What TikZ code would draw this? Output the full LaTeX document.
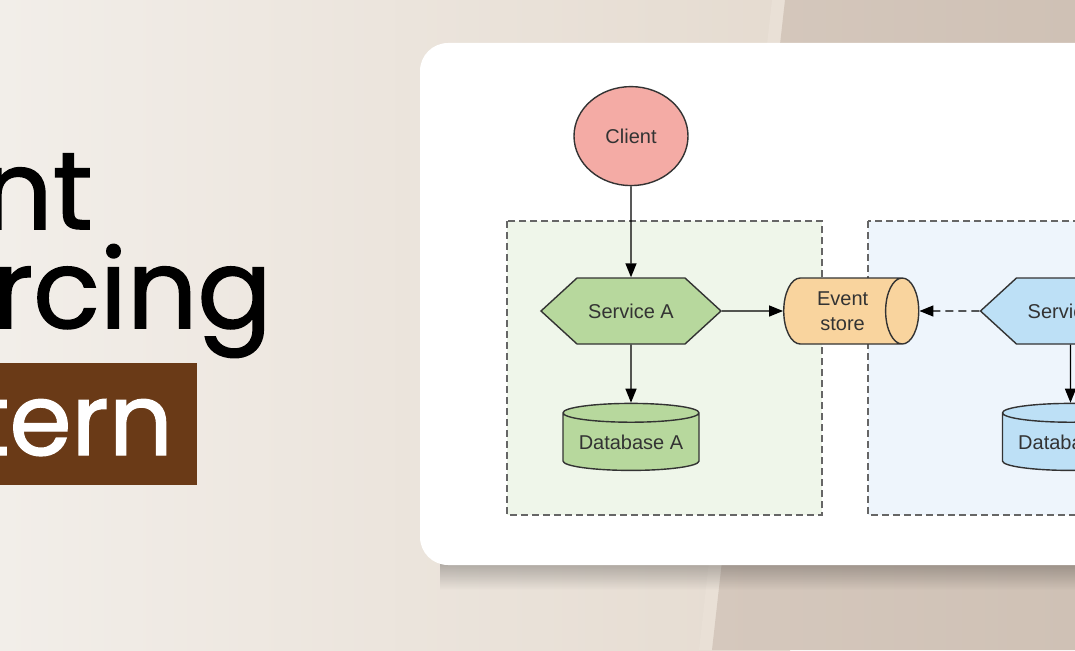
\documentclass[tikz,border=0pt]{standalone}
\usepackage{fontspec}
\newfontfamily\titlefont{Poppins}[FakeBold=1.4]
\newfontfamily\diagfont{Liberation Sans}
\usepackage{xcolor}
\usepackage{tikz}
\usetikzlibrary{arrows.meta,positioning,shapes.geometric,shapes.symbols,fadings}
\tikzset{>={Triangle[length=14pt,width=11pt]}}

\definecolor{bgleft}{HTML}{F2EEE9}
\definecolor{bgmid}{HTML}{E5DBD0}
\definecolor{bgstrip}{HTML}{E9E0D6}
\definecolor{bgdark}{HTML}{D5C8BD}
\definecolor{bgdarker}{HTML}{CFC1B5}
\definecolor{tagbrown}{HTML}{6A3A17}
\definecolor{clientpink}{HTML}{F4ABA5}
\definecolor{svcgreen}{HTML}{B7D89D}
\definecolor{svcblue}{HTML}{BDE0F6}
\definecolor{storeorange}{HTML}{F9D49E}
\definecolor{zonegreen}{HTML}{EFF6EA}
\definecolor{zoneblue}{HTML}{EEF5FC}
\definecolor{inkgray}{HTML}{333333}

\begin{document}
\begin{tikzpicture}[
    x=1pt, y=-1pt,
    title/.style={inner sep=0pt, font=\titlefont\fontsize{110}{110}\selectfont},
    shape base/.style={draw=inkgray, line width=1.4pt, text=inkgray,
        font=\diagfont\fontsize{20}{25}\selectfont, align=center, inner sep=0pt},
    client/.style={shape base, ellipse, fill=clientpink,
        minimum width=114pt, minimum height=99pt},
    svc/.style={shape base, signal, signal to=west and east,
        signal pointer angle=85, minimum width=180pt, minimum height=66pt},
    db/.style={shape base, cylinder, shape border rotate=90, aspect=0.18,
        minimum width=136pt, minimum height=67pt},
    store/.style={shape base, cylinder, aspect=0.85, fill=storeorange,
        minimum width=66pt, minimum height=135pt},
    zone/.style={draw=black!60, line width=1.2pt, dash pattern=on 7pt off 4pt},
    arrow/.style={->, line width=1.4pt}
]
    \useasboundingbox (0,0) rectangle (1075,650);
    \clip (0,0) rectangle (1075,650);

    % backdrop
    \shade[left color=bgleft, right color=bgmid] (0,0) rectangle (790,650);
    \fill[bgstrip] (772,0) -- (787,0) -- (714,650) -- (699,650) -- cycle;
    \shade[left color=bgdark, right color=bgdarker]
        (785,0) -- (1075,0) -- (1075,650) -- (712,650) -- cycle;

    % title
    \node[title, anchor=base east] (evt) at (93,229) {Event};
    \node[title, anchor=base east] (src) at (272,328) {Sourcing};
    \node[title, font=\titlefont\fontsize{100}{100}\selectfont, anchor=base east,
        fill=tagbrown, text=white, inner xsep=24pt, text height=92pt,
        text depth=30pt] (pat) at (197,455) {Pattern};

    % card
    \fill[black, opacity=0.3, path fading=south] (440,558) rectangle (1100,590);
    \fill[white, rounded corners=28pt] (420,43) rectangle (1160,565);

    % bounded contexts
    \draw[zone, fill=zonegreen] (507,221) rectangle (822,515);
    \draw[zone, fill=zoneblue] (868,221) rectangle (1120,515);

    \node[svc, fill=svcgreen] (servA) at (631,311) {Service A};
    \node[client, above=91pt of servA] (client) {Client};
    \node[db, fill=svcgreen, below=58pt of servA] (dbA) {Database A};
    \node[store, right=61pt of servA] (store) {Event\\store};
    \node[svc, fill=svcblue, right=60pt of store] (servB) {Service B};
    \node[db, fill=svcblue, below=58pt of servB] (dbB) {Database B};

    \draw[arrow] (client) -- (servA);
    \draw[arrow] (servA) -- (dbA);
    \draw[arrow] (servA) -- (store);
    \draw[arrow, dash pattern=on 8pt off 5pt] (servB) -- (store);
    \draw[arrow] (servB) -- (dbB);
\end{tikzpicture}
\end{document}
